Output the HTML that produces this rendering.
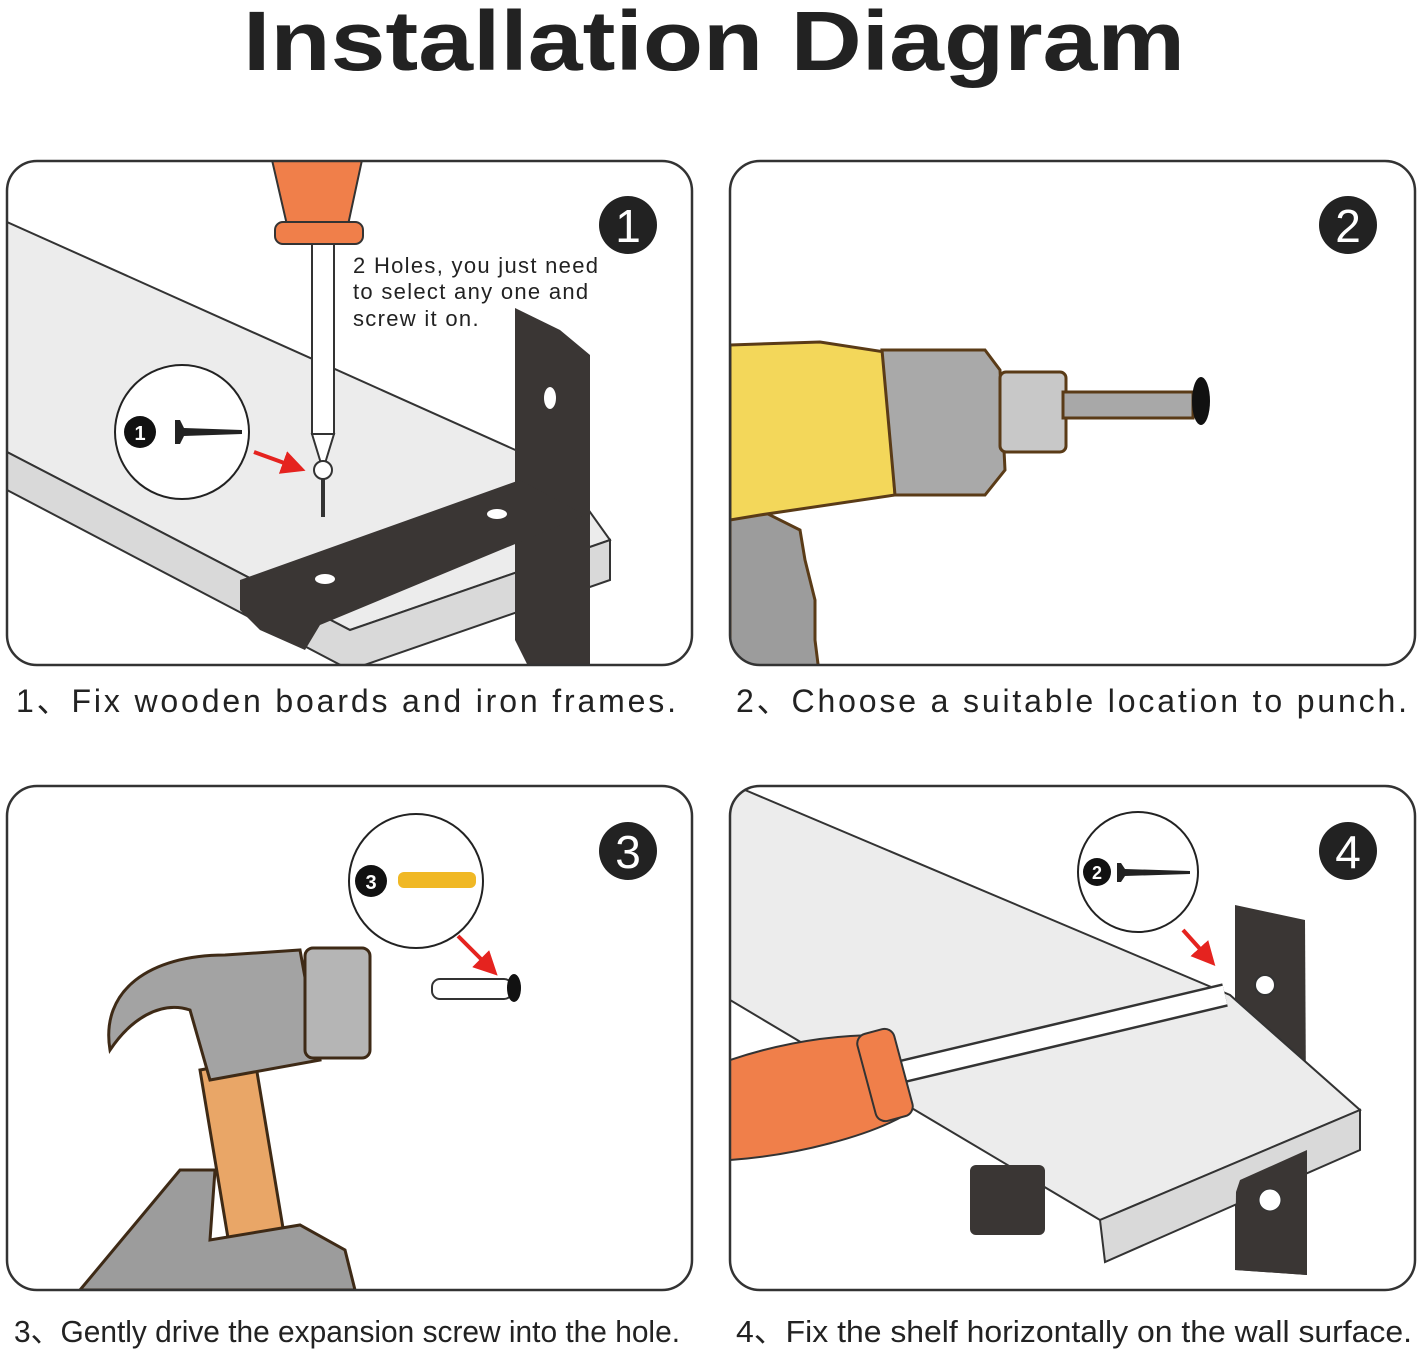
<!DOCTYPE html>
<html><head><meta charset="utf-8"><style>
html,body{margin:0;padding:0;background:#fff;}
body{width:1419px;height:1352px;overflow:hidden;position:relative;font-family:"Liberation Sans",sans-serif;}
</style></head><body>
<svg width="1419" height="1352" viewBox="0 0 1419 1352" xmlns="http://www.w3.org/2000/svg" style="position:absolute;left:0;top:0">
<defs>
<marker id="ar" markerWidth="6" markerHeight="6" refX="4" refY="3" orient="auto"><path d="M0,0 L6,3 L0,6 z" fill="#e5231f"/></marker>
</defs>
<text x="243" y="70" textLength="942" lengthAdjust="spacingAndGlyphs" font-family="Liberation Sans" font-weight="bold" font-size="84" fill="#222">Installation Diagram</text>

<!-- Panel 1 -->
<clipPath id="c1"><rect x="7" y="161" width="685" height="504" rx="30"/></clipPath>
<g clip-path="url(#c1)">
<polygon points="7,222 560,470 610,540 350,630 7,452" fill="#ececec" stroke="#333" stroke-width="2"/>
<polygon points="7,452 350,630 610,540 610,580 350,670 7,490" fill="#d9d9d9" stroke="#333" stroke-width="2"/>
<polygon points="515,308 560,330 590,355 590,670 530,670 515,640" fill="#3a3634"/>
<polygon points="240,580 520,480 585,515 320,625 305,650 260,630 240,610" fill="#3a3634"/>
<ellipse cx="550" cy="398" rx="6" ry="11" fill="#fff"/>
<ellipse cx="497" cy="514" rx="10" ry="5" fill="#fff"/>
<ellipse cx="325" cy="579" rx="10" ry="5" fill="#fff"/>
<polygon points="272,160 362,160 348,225 287,225" fill="#f07f4a" stroke="#333" stroke-width="2"/>
<rect x="275" y="222" width="88" height="22" rx="8" fill="#f07f4a" stroke="#333" stroke-width="2"/>
<rect x="312" y="244" width="22" height="190" fill="#fff" stroke="#333" stroke-width="2"/>
<polygon points="312,434 334,434 323,470" fill="#fff" stroke="#333" stroke-width="2"/>
<circle cx="323" cy="470" r="9" fill="#fff" stroke="#333" stroke-width="2"/>
<line x1="323" y1="478" x2="323" y2="517" stroke="#333" stroke-width="4"/>
</g>
<rect x="7" y="161" width="685" height="504" rx="30" fill="none" stroke="#333" stroke-width="2.5"/>
<text font-size="22" fill="#222" letter-spacing="1.3"><tspan x="353" y="273">2 Holes, you just need</tspan><tspan x="353" y="299">to select any one and</tspan><tspan x="353" y="326">screw it on.</tspan></text>
<circle cx="182" cy="432" r="67" fill="#fff" stroke="#222" stroke-width="2"/>
<circle cx="140" cy="432" r="16" fill="#111"/><text x="140" y="440" text-anchor="middle" fill="#fff" font-size="20" font-weight="bold">1</text>
<polygon points="175,420 180,420 184,428 242,430 242,434 184,436 180,444 175,444" fill="#222"/>
<line x1="254" y1="452" x2="298" y2="468" stroke="#e5231f" stroke-width="4" marker-end="url(#ar)"/>
<circle cx="628" cy="225" r="29" fill="#222"/><text x="628" y="242" text-anchor="middle" fill="#fff" font-size="46">1</text>

<!-- Panel 2 -->
<clipPath id="c2"><rect x="730" y="161" width="685" height="504" rx="30"/></clipPath>
<g clip-path="url(#c2)">
<polygon points="730,520 760,510 800,530 805,560 815,600 815,640 820,680 730,680" fill="#9c9c9c" stroke="#5a3b17" stroke-width="3"/>
<polygon points="730,345 820,342 885,352 895,495 760,515 730,520" fill="#f3d75a" stroke="#5a3b17" stroke-width="3"/>
<path d="M882,350 L985,350 L1000,370 L1005,470 L985,495 L895,495 Z" fill="#a9a9a9" stroke="#5a3b17" stroke-width="3"/>
<rect x="1000" y="372" width="66" height="80" rx="6" fill="#c8c8c8" stroke="#5a3b17" stroke-width="3"/>
<rect x="1063" y="392" width="130" height="26" fill="#a8a8a8" stroke="#5a3b17" stroke-width="3"/>
<ellipse cx="1201" cy="401" rx="9" ry="24" fill="#111"/>
</g>
<rect x="730" y="161" width="685" height="504" rx="30" fill="none" stroke="#333" stroke-width="2.5"/>
<circle cx="1348" cy="225" r="29" fill="#222"/><text x="1348" y="242" text-anchor="middle" fill="#fff" font-size="46">2</text>

<!-- Panel 3 -->
<clipPath id="c3"><rect x="7" y="786" width="685" height="504" rx="30"/></clipPath>
<g clip-path="url(#c3)">
<polygon points="200,1070 255,1060 290,1270 235,1280" fill="#e9a667" stroke="#3e2a16" stroke-width="3"/>
<path d="M110,1050 C100,990 150,955 225,955 L300,950 L320,1060 L210,1080 L190,1010 C160,1000 130,1020 110,1050 Z" fill="#a3a3a3" stroke="#3e2a16" stroke-width="3"/>
<rect x="305" y="948" width="65" height="110" rx="8" fill="#b5b5b5" stroke="#3e2a16" stroke-width="3"/>
<path d="M80,1290 L180,1170 L215,1170 L210,1240 L300,1225 L345,1250 L355,1290 Z" fill="#9c9c9c" stroke="#3e2a16" stroke-width="3"/>
</g>
<rect x="7" y="786" width="685" height="504" rx="30" fill="none" stroke="#333" stroke-width="2.5"/>
<circle cx="416" cy="881" r="67" fill="#fff" stroke="#222" stroke-width="2"/>
<circle cx="371" cy="881" r="16" fill="#111"/><text x="371" y="889" text-anchor="middle" fill="#fff" font-size="20" font-weight="bold">3</text>
<rect x="398" y="872" width="78" height="16" rx="6" fill="#f0b825"/>
<line x1="458" y1="936" x2="492" y2="970" stroke="#e5231f" stroke-width="4" marker-end="url(#ar)"/>
<rect x="432" y="979" width="80" height="20" rx="8" fill="#fff" stroke="#333" stroke-width="2"/>
<ellipse cx="514" cy="988" rx="7" ry="14" fill="#111"/>
<circle cx="628" cy="851" r="29" fill="#222"/><text x="628" y="868" text-anchor="middle" fill="#fff" font-size="46">3</text>

<!-- Panel 4 -->
<clipPath id="c4"><rect x="730" y="786" width="685" height="504" rx="30"/></clipPath>
<g clip-path="url(#c4)">
<polygon points="1235,905 1305,920 1307,1275 1235,1270" fill="#3a3634"/>
<polygon points="745,790 1230,995 1360,1110 1100,1220 730,1000 730,790" fill="#ececec" stroke="#333" stroke-width="2"/>
<polygon points="1100,1220 1360,1110 1360,1150 1105,1262" fill="#d9d9d9" stroke="#333" stroke-width="2"/>
<polygon points="1240,1180 1307,1150 1307,1275 1235,1270 1236,1192" fill="#3a3634"/>
<rect x="970" y="1165" width="75" height="70" rx="6" fill="#3a3634"/>
<circle cx="1270" cy="1200" r="11" fill="#fff" stroke="#333"/>
<circle cx="1265" cy="985" r="10" fill="#fff" stroke="#333" stroke-width="2"/>
<line x1="900" y1="1072" x2="1225" y2="995" stroke="#333" stroke-width="24"/>
<line x1="900" y1="1072" x2="1225" y2="995" stroke="#fff" stroke-width="19"/>
<path d="M730,1060 C790,1040 840,1035 880,1035 L905,1115 C870,1135 800,1155 730,1160 Z" fill="#f07f4a" stroke="#333" stroke-width="2"/>
<rect x="866" y="1030" width="38" height="90" rx="10" transform="rotate(-15 885 1075)" fill="#f07f4a" stroke="#333" stroke-width="2"/>
</g>
<rect x="730" y="786" width="685" height="504" rx="30" fill="none" stroke="#333" stroke-width="2.5"/>
<circle cx="1138" cy="872" r="60" fill="#fff" stroke="#222" stroke-width="2"/>
<circle cx="1097" cy="872" r="14" fill="#111"/><text x="1097" y="879" text-anchor="middle" fill="#fff" font-size="18" font-weight="bold">2</text>
<polygon points="1117,863 1121,863 1125,869 1190,871 1190,874 1125,876 1121,882 1117,882" fill="#222"/>
<line x1="1183" y1="930" x2="1210" y2="960" stroke="#e5231f" stroke-width="4" marker-end="url(#ar)"/>
<circle cx="1348" cy="851" r="29" fill="#222"/><text x="1348" y="868" text-anchor="middle" fill="#fff" font-size="46">4</text>

<!-- captions -->
<text x="16" y="712" font-size="32" fill="#222" textLength="660" lengthAdjust="spacing" font-family="Liberation Sans, Noto Sans CJK SC, sans-serif">1、Fix wooden boards and iron frames.</text>
<text x="736" y="712" font-size="32" fill="#222" textLength="671" lengthAdjust="spacing" font-family="Liberation Sans, Noto Sans CJK SC, sans-serif">2、Choose a suitable location to punch.</text>
<text x="14" y="1342" font-size="31" fill="#222" textLength="666" lengthAdjust="spacingAndGlyphs" font-family="Liberation Sans, Noto Sans CJK SC, sans-serif">3、Gently drive the expansion screw into the hole.</text>
<text x="736" y="1342" font-size="31" fill="#222" textLength="676" lengthAdjust="spacingAndGlyphs" font-family="Liberation Sans, Noto Sans CJK SC, sans-serif">4、Fix the shelf horizontally on the wall surface.</text>
</svg>
</body></html>
